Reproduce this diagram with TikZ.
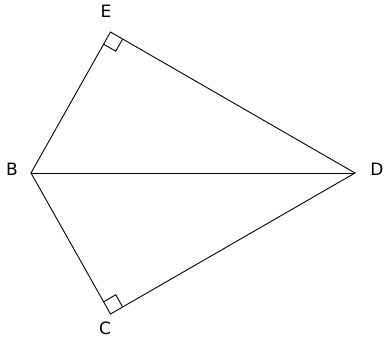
\documentclass[tikz,border=0pt]{standalone}
\usepackage{fontspec}
\setmainfont{DejaVu Sans}
\usetikzlibrary{calc}
\begin{document}
\begin{tikzpicture}[x=1pt,y=-1pt,
  edge/.style={line width=0.9pt,black},
  lbl/.style={font=\fontsize{17}{17}\selectfont,inner sep=0pt}]
\useasboundingbox (0,0) rectangle (385,342);
\coordinate (E) at (110.5,32);
\coordinate (B) at (31,173);
\coordinate (D) at (355,173);
\coordinate (C) at (110.5,314);
\draw[edge] (B) -- (E) -- (D) -- (C) -- cycle;
\draw[edge] (B) -- (D);
% right angle mark at E
\coordinate (e1) at ($(E)!14pt!(B)$);
\coordinate (e3) at ($(E)!14pt!(D)$);
\coordinate (e2) at ($(e1)+(e3)-(E)$);
\draw[edge] (e1) -- (e2) -- (e3);
% right angle mark at C
\coordinate (c1) at ($(C)!14pt!(B)$);
\coordinate (c3) at ($(C)!14pt!(D)$);
\coordinate (c2) at ($(c1)+(c3)-(C)$);
\draw[edge] (c1) -- (c2) -- (c3);
% labels
\node[lbl] (lE) at (106,11) {E};
\node[lbl] (lB) at (12,169) {B};
\node[lbl] (lD) at (377,169.5) {D};
\node[lbl] (lC) at (105,328) {C};
\end{tikzpicture}
\end{document}
